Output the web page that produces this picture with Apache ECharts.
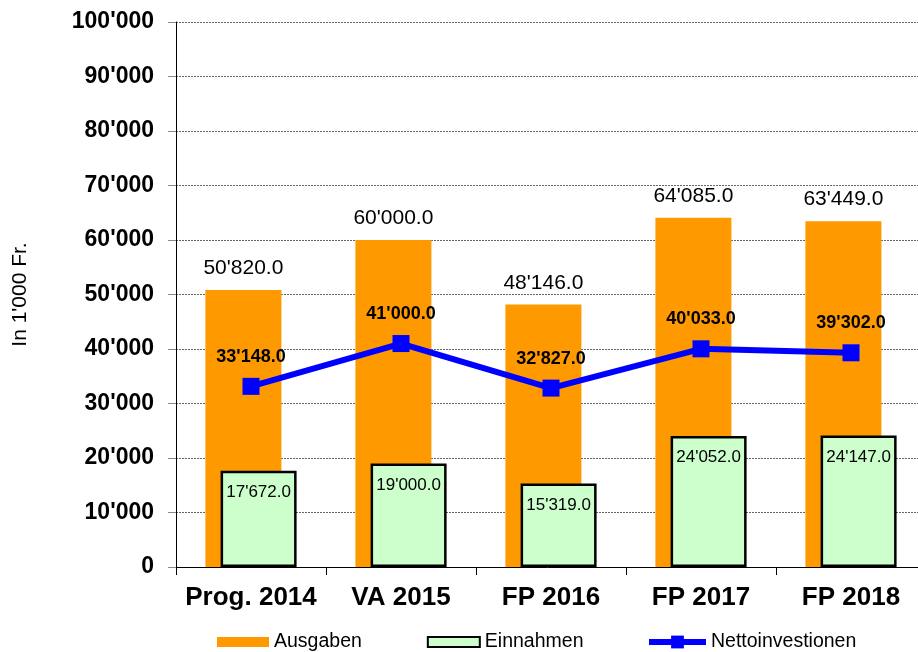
<!DOCTYPE html>
<html>
<head>
<meta charset="utf-8">
<script src="https://cdn.jsdelivr.net/npm/echarts@6/dist/echarts.min.js"></script>
<style>
  html, body { margin: 0; padding: 0; background: #fff; }
  #chart { width: 918px; height: 652px; }
</style>
</head>
<body>
<div id="chart"></div>
<script>
const categories = ['Prog. 2014', 'VA 2015', 'FP 2016', 'FP 2017', 'FP 2018'];
const ausgaben = [50820, 60000, 48146, 64085, 63449];
const einnahmen = [17672, 19000, 15319, 24052, 24147];
const netto = [33148, 41000, 32827, 40033, 39302];

const FONT = 'Liberation Sans, Arial, sans-serif';

// 12345.6 -> 12'345.6
const swiss = (v, digits) => {
    const parts = Number(v).toFixed(digits).split('.');
    parts[0] = parts[0].replace(/\B(?=(\d{3})+(?!\d))/g, "'");
    return parts.join('.');
};

const chart = echarts.init(document.getElementById('chart'));

const legendText = { fontSize: 19.5, color: '#000', fontFamily: FONT };

const option = {
    animation: false,
    textStyle: { fontFamily: FONT },
    grid: {
        left: 176,
        top: 22,
        right: -8,
        bottom: 85,
        containLabel: false,
        outerBoundsMode: 'none'
    },
    legend: [
        {
            left: 212,
            top: 627,
            itemWidth: 52,
            itemHeight: 10,
            itemGap: 65,
            textStyle: legendText,
            data: [
                { name: 'Ausgaben', icon: 'rect' },
                { name: 'Einnahmen', icon: 'rect' }
            ]
        },
        {
            // line entry gets its own legend so the square can be bigger
            left: 641,
            top: 627,
            itemWidth: 57,
            itemHeight: 16,
            textStyle: legendText,
            data: [{ name: 'Nettoinvestionen', lineStyle: { width: 6 } }]
        }
    ],
    xAxis: {
        type: 'category',
        data: categories,
        axisLine: { lineStyle: { color: '#000', width: 1 } },
        axisTick: { show: true, length: 8, lineStyle: { color: '#000' } },
        axisLabel: {
            interval: 0,
            fontSize: 26,
            fontWeight: 'bold',
            color: '#000',
            margin: 18,
            fontFamily: FONT
        }
    },
    yAxis: {
        type: 'value',
        min: 0,
        max: 100000,
        interval: 10000,
        name: "In 1'000 Fr.",
        nameLocation: 'middle',
        nameGap: 145,
        nameRotate: 90,
        nameTextStyle: { fontSize: 21, color: '#000', fontFamily: FONT },
        axisLine: { show: true, lineStyle: { color: '#000', width: 1 } },
        axisTick: { show: true, length: 8, lineStyle: { color: '#888' } },
        axisLabel: {
            fontSize: 23,
            fontWeight: 'bold',
            color: '#000',
            margin: 22,
            fontFamily: FONT,
            formatter: v => swiss(v, 0)
        },
        splitLine: {
            show: true,
            lineStyle: { color: '#666', width: 1, type: [2, 1] }
        }
    },
    series: [
        {
            name: 'Ausgaben',
            type: 'bar',
            data: ausgaben,
            barWidth: 76,
            barGap: '-80%',
            itemStyle: { color: '#FF9900' },
            label: {
                show: true,
                position: 'top',
                distance: 11,
                fontSize: 21,
                color: '#000',
                fontFamily: FONT,
                formatter: p => swiss(p.value, 1)
            }
        },
        {
            name: 'Einnahmen',
            type: 'bar',
            data: einnahmen,
            barWidth: 76,
            itemStyle: { color: '#CCFFCC', borderColor: '#000', borderWidth: 2.5 },
            label: {
                show: true,
                position: 'insideTop',
                distance: 13,
                fontSize: 17,
                color: '#000',
                fontFamily: FONT,
                formatter: p => swiss(p.value, 1)
            }
        },
        {
            name: 'Nettoinvestionen',
            type: 'line',
            data: netto,
            z: 5,
            symbol: 'rect',
            symbolSize: 17,
            lineStyle: { color: '#0000FF', width: 6 },
            itemStyle: { color: '#0000FF' },
            label: {
                show: true,
                position: 'top',
                distance: 12,
                fontSize: 18,
                fontWeight: 'bold',
                color: '#000',
                fontFamily: FONT,
                formatter: p => swiss(p.value, 1)
            }
        }
    ]
};

chart.setOption(option);
window.addEventListener('resize', () => chart.resize());
</script>
</body>
</html>
